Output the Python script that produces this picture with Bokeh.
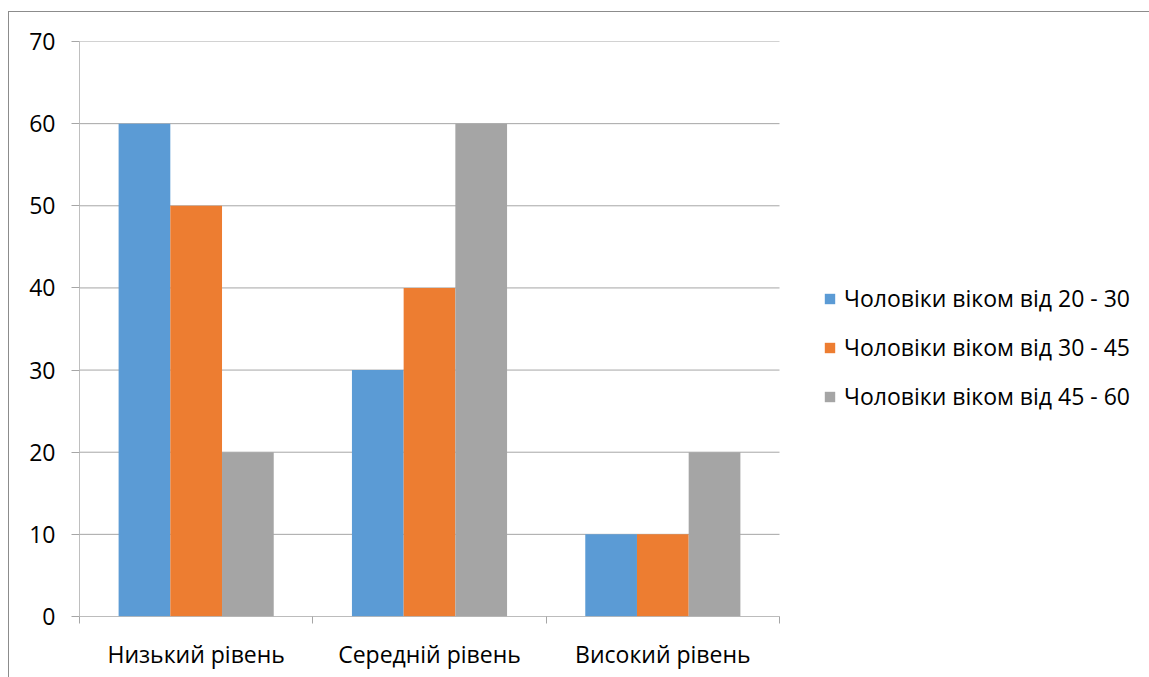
from bokeh.plotting import figure
from bokeh.models import Range1d, FixedTicker, Legend, LegendItem, ColumnDataSource
from bokeh.embed import file_html
from bokeh.resources import INLINE

categories = ["Низький рівень", "Середній рівень", "Високий рівень"]
series_names = ["Чоловіки віком від 20 - 30", "Чоловіки віком від 30 - 45", "Чоловіки віком від 45 - 60"]
men_20_30 = [60, 30, 10]
men_30_45 = [50, 40, 10]
men_45_60 = [20, 60, 20]
y_ticks = [0, 10, 20, 30, 40, 50, 60, 70]

colors = ["#5b9bd5", "#ed7d31", "#a5a5a5"]
FONT = "Open Sans"
FS = "23px"
bar_w = 0.2216
offsets = [-bar_w, 0.0, bar_w]
n = len(categories)

# the frame extends to the right to hold the legend; the plot itself spans 0..n
p = figure(width=1141, height=666, output_backend="svg", toolbar_location=None,
           x_range=Range1d(0, 4.59), y_range=Range1d(0, 70),
           min_border_left=70, min_border_top=29, min_border_bottom=62, min_border_right=0)
p.outline_line_color = None
p.styles = {"position": "absolute", "left": "8px", "top": "11px",
            "border-left": "1px solid #8c8c8c", "border-top": "1px solid #8c8c8c"}

# gridlines and x axis line only across the categories
p.segment(x0=[0] * len(y_ticks), x1=[n] * len(y_ticks), y0=y_ticks, y1=y_ticks,
          line_color="#a6a6a6", line_width=1)

centers = [i + 0.5 for i in range(n)]
items = []
for vals, name, col, off in zip([men_20_30, men_30_45, men_45_60], series_names, colors, offsets):
    src = ColumnDataSource(dict(x=[c + off for c in centers], top=vals))
    r = p.vbar(x="x", top="top", width=bar_w, bottom=0, source=src, fill_color=col, line_color=None)
    items.append(LegendItem(label=name, renderers=[r]))

p.segment(x0=[0], x1=[n], y0=[0], y1=[0], line_color="#a6a6a6", line_width=1)

p.xgrid.grid_line_color = None
p.ygrid.grid_line_color = None

# y axis
p.yaxis.ticker = FixedTicker(ticks=y_ticks, minor_ticks=[])
p.yaxis.major_tick_out = 8
p.yaxis.major_tick_in = 0
p.yaxis.major_tick_line_color = "#a6a6a6"
p.yaxis.axis_line_color = "#bfbfbf"
p.yaxis.major_label_text_font = FONT
p.yaxis.major_label_text_font_size = FS
p.yaxis.major_label_text_color = "#000000"
p.yaxis.major_label_standoff = 16

# x axis: labels at centers, ticks at boundaries
p.xaxis.ticker = FixedTicker(ticks=centers, minor_ticks=list(range(n + 1)))
p.xaxis.major_label_overrides = {c: name for c, name in zip(centers, categories)}
p.xaxis.major_tick_out = 0
p.xaxis.major_tick_in = 0
p.xaxis.minor_tick_out = 7
p.xaxis.minor_tick_in = 0
p.xaxis.minor_tick_line_color = "#a6a6a6"
p.xaxis.axis_line_color = None
p.xaxis.major_label_text_font = FONT
p.xaxis.major_label_text_font_size = FS
p.xaxis.major_label_text_color = "#000000"
p.xaxis.major_label_standoff = 14

legend = Legend(items=items, orientation="vertical")
legend.border_line_color = None
legend.background_fill_alpha = 0
legend.label_text_font = FONT
legend.label_text_font_size = FS
legend.label_text_color = "#000000"
legend.glyph_width = 13
legend.glyph_height = 13
legend.label_standoff = 8
legend.spacing = 17
legend.margin = 0
legend.padding = 0
legend.location = (744, 204)
p.add_layout(legend, "center")

open("out.html", "w").write(file_html(p, INLINE))
